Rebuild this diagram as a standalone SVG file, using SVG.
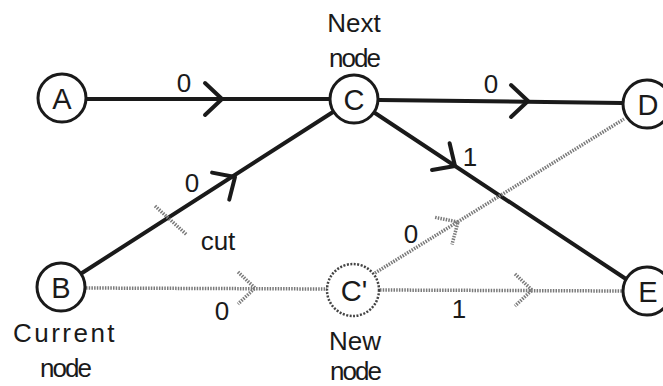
<svg xmlns="http://www.w3.org/2000/svg" xmlns:xlink="http://www.w3.org/1999/xlink" width="663" height="386" viewBox="0 0 663 386">
<style>
.bg{fill:#ffffff}
.node{fill:#ffffff;stroke:#1a1a1a;stroke-width:3}
.newnode{fill:#ffffff;stroke:#444;stroke-width:2.5;stroke-dasharray:2 1.5}
.solid{fill:none;stroke:#1a1a1a;stroke-width:4;stroke-linecap:round;stroke-linejoin:round}
.dotted{fill:none;stroke:#7a7a7a;stroke-width:3.5;stroke-dasharray:1.5 1.2}
.nl{font-family:"Liberation Sans",Arial,sans-serif;font-size:29px;fill:#1a1a1a;text-anchor:middle}
.lbl{font-family:"Liberation Sans",Arial,sans-serif;font-size:26px;fill:#1a1a1a;text-anchor:middle}
.num{font-family:"Liberation Sans",Arial,sans-serif;font-size:26px;fill:#1a1a1a;text-anchor:middle}
</style>
<defs>
<path id="chev" d="M-17,-16 L0,0 L-17,16"/>
</defs>
<rect class="bg" x="0" y="0" width="663" height="386"/>
<g id="connectors">
<line class="solid" x1="86" y1="99" x2="329" y2="99"/>
<use xlink:href="#chev" class="solid" transform="translate(222,99)"/>
<line class="solid" x1="379" y1="100" x2="622" y2="103"/>
<use xlink:href="#chev" class="solid" transform="translate(528,101)"/>
<line class="solid" x1="82" y1="273" x2="333" y2="112"/>
<use xlink:href="#chev" class="solid" transform="translate(235,177) rotate(-32.5)"/>
<line class="dotted" x1="155" y1="206" x2="187" y2="235"/>
<line class="solid" x1="375" y1="113" x2="626" y2="279"/>
<use xlink:href="#chev" class="solid" transform="translate(455,166) rotate(33.4)"/>
<line class="dotted" x1="86" y1="288" x2="327" y2="289"/>
<use xlink:href="#chev" class="dotted" transform="translate(255,288)"/>
<line class="dotted" x1="380" y1="290" x2="622" y2="291"/>
<use xlink:href="#chev" class="dotted" transform="translate(532,290)"/>
<line class="dotted" x1="375" y1="273" x2="624" y2="119"/>
<use xlink:href="#chev" class="dotted" transform="translate(458,222) rotate(-31.8)"/>
<text class="num" x="184" y="92">0</text>
<text class="num" x="491" y="93">0</text>
<text class="num" x="192" y="192">0</text>
<text class="num" x="470" y="166">1</text>
<text class="num" x="411" y="243">0</text>
<text class="num" x="222" y="320">0</text>
<text class="num" x="459" y="318">1</text>
<text class="lbl" x="218" y="250">cut</text>
</g>
<g id="node-A">
<circle class="node" cx="62" cy="98" r="24"/>
<text class="nl" x="62" y="109">A</text>
</g>
<g id="node-B">
<circle class="node" cx="61" cy="287" r="24"/>
<text class="nl" x="61" y="298">B</text>
<text class="lbl" x="65" y="342" style="letter-spacing:2.5px">Current</text>
<text class="lbl" x="65" y="377" style="letter-spacing:-2px">node</text>
</g>
<g id="node-C">
<circle class="node" cx="354" cy="99" r="24"/>
<text class="nl" x="354" y="110">C</text>
<text class="lbl" x="354" y="32">Next</text>
<text class="lbl" x="354" y="67" style="letter-spacing:-2px">node</text>
</g>
<g id="node-D">
<circle class="node" cx="647" cy="104" r="24"/>
<text class="nl" x="648" y="115">D</text>
</g>
<g id="node-E">
<circle class="node" cx="647" cy="291" r="24"/>
<text class="nl" x="648" y="302">E</text>
</g>
<g id="node-Cprime">
<circle class="newnode" cx="353" cy="290" r="26"/>
<text class="nl" x="354" y="301">C'</text>
<text class="lbl" x="355" y="350">New</text>
<text class="lbl" x="355" y="380" style="letter-spacing:-2px">node</text>
</g>
</svg>
